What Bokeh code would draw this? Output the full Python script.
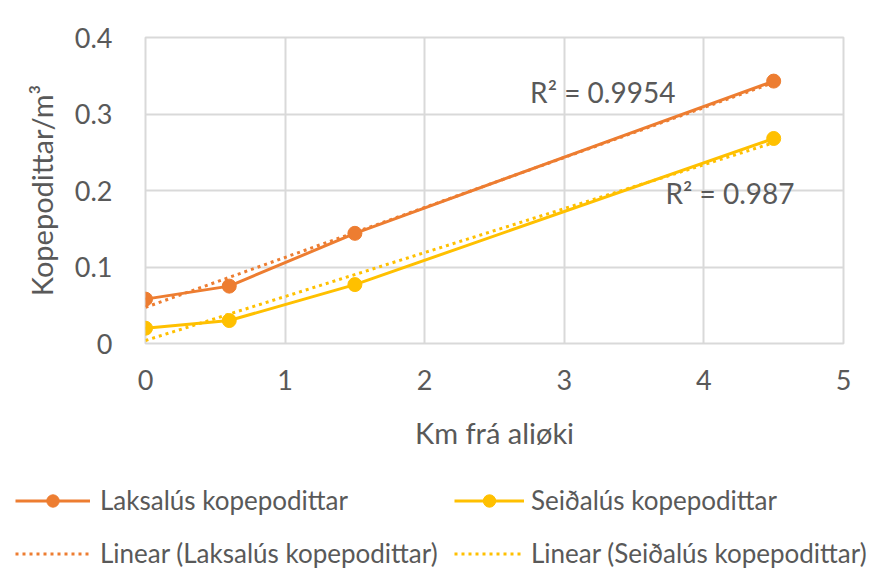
import numpy as np
from bokeh.plotting import figure
from bokeh.models import (FixedTicker, NumeralTickFormatter, Legend, LegendItem,
                          Label, Range1d)
from bokeh.embed import file_html
from bokeh.resources import INLINE

# ---- data ----
km = [0, 0.6, 1.5, 4.5]
laksalus = [0.058, 0.075, 0.144, 0.343]
seidalus = [0.020, 0.030, 0.077, 0.268]
x_ticks = [0, 1, 2, 3, 4, 5]
y_ticks = [0, 0.1, 0.2, 0.3, 0.4]
series_names = ["Laksalús kopepodittar", "Seiðalús kopepodittar"]
r2_texts = ["R² = 0.9954", "R² = 0.987"]
x_title = "Km frá aliøki"
y_title = "Kopepodittar/m³"

# ---- style ----
FONT = "Lato"
TXT = "#595959"
GRID = "#d9d9d9"
ORANGE = "#ED7D31"
YELLOW = "#FFC000"
colors = [ORANGE, YELLOW]

p = figure(width=876, height=470, x_range=Range1d(0, 5), y_range=Range1d(0, 0.4),
           output_backend="svg", toolbar_location=None,
           min_border_left=145, min_border_right=33, min_border_top=37,
           min_border_bottom=127)
p.background_fill_color = "white"
p.border_fill_color = "white"
p.outline_line_color = GRID
p.outline_line_width = 2

for ax, ticks in ((p.xaxis, x_ticks), (p.yaxis, y_ticks)):
    ax.ticker = FixedTicker(ticks=ticks)
    ax.axis_line_color = None
    ax.major_tick_line_color = None
    ax.minor_tick_line_color = None
    ax.major_label_text_font = FONT
    ax.major_label_text_font_size = "27px"
    ax.major_label_text_color = TXT
    ax.axis_label_text_font = FONT
    ax.axis_label_text_font_size = "29px"
    ax.axis_label_text_color = TXT
    ax.axis_label_text_font_style = "normal"

p.xaxis.major_label_standoff = 20
p.yaxis.major_label_standoff = 27
p.yaxis.formatter = NumeralTickFormatter(format="0.[0]")
p.xaxis.axis_label = x_title
p.yaxis.axis_label = y_title
p.xaxis.axis_label_standoff = 22
p.yaxis.axis_label_standoff = 13

p.xgrid.ticker = FixedTicker(ticks=x_ticks)
p.ygrid.ticker = FixedTicker(ticks=y_ticks)
for g in (p.xgrid, p.ygrid):
    g.grid_line_color = GRID
    g.grid_line_width = 2

all_series = [laksalus, seidalus]
for ys, col in zip(all_series, colors):
    p.line(km, ys, line_color=col, line_width=3)
for ys, col in zip(all_series, colors):
    fit = np.polyfit(km, ys, 1)
    fx = [km[0], km[-1]]
    p.line(fx, list(np.polyval(fit, fx)), line_color=col, line_width=3,
           line_dash="3 4")
for ys, col in zip(all_series, colors):
    p.scatter(km, ys, size=14, fill_color=col, line_color=col)

p.add_layout(Label(x=2.755, y=0.329, text=r2_texts[0], text_baseline="middle",
                   text_font=FONT, text_font_size="28px", text_color=TXT))
p.add_layout(Label(x=3.725, y=0.197, text=r2_texts[1], text_baseline="middle",
                   text_font=FONT, text_font_size="28px", text_color=TXT))

# ---- legend strip below the chart (separate root, no frame alignment) ----
lg = figure(width=876, height=114, x_range=Range1d(0, 1), y_range=Range1d(0, 1),
            output_backend="svg", toolbar_location=None,
            min_border_left=0, min_border_right=0,
            min_border_top=0, min_border_bottom=0)
lg.axis.visible = False
lg.grid.visible = False
lg.outline_line_color = None
lg.border_fill_color = "white"
lg.background_fill_color = "white"

locs = [(15, 15), (454, 15)]
glyph_w = [75, 70]
standoffs = [10, 7]
for i, name in enumerate(series_names):
    col = colors[i]
    # legend samples only; their data lie outside the visible strip
    l_line = lg.line([2, 3], [2, 3], line_color=col, line_width=3)
    l_mark = lg.scatter([2.5], [2.5], size=14, fill_color=col, line_color=col)
    l_trend = lg.line([2, 3], [2, 3], line_color=col, line_width=3, line_dash="3 4")
    leg = Legend(items=[LegendItem(label=name, renderers=[l_line, l_mark]),
                        LegendItem(label="Linear (" + name + ")", renderers=[l_trend])],
                 location=locs[i], orientation="vertical",
                 label_text_font=FONT, label_text_font_size="26px",
                 label_text_color=TXT, glyph_width=glyph_w[i], glyph_height=31,
                 label_height=31, label_standoff=standoffs[i], spacing=21,
                 padding=0, margin=0, border_line_color=None,
                 background_fill_alpha=0)
    lg.add_layout(leg, "center")

html = file_html([p, lg], INLINE)
open("out.html", "w").write(html)
